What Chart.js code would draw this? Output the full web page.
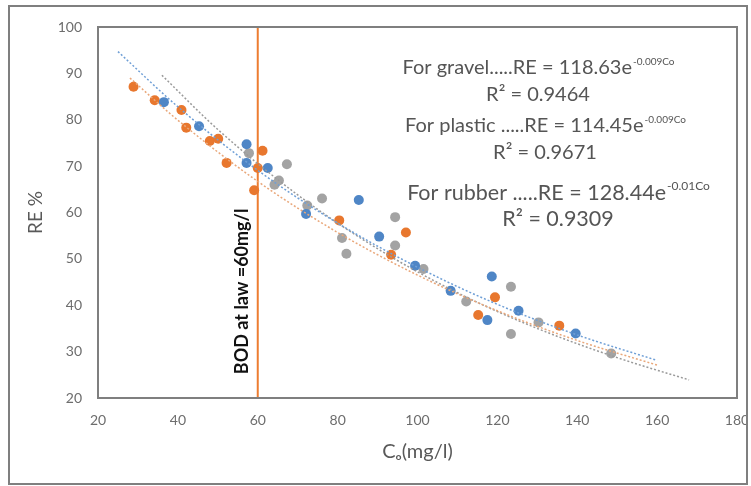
<!DOCTYPE html>
<html>
<head>
<meta charset="utf-8">
<script src="https://cdn.jsdelivr.net/npm/chart.js@4.4.1/dist/chart.umd.min.js"></script>
<style>
  body { margin: 0; background: #fff; }
  #box { position: absolute; left: 8px; top: 5px; width: 736px; height: 476px; border: 2px solid #7f7f7f; background: #fff; }
  #plotFrame { position: absolute; border: 2px solid #7f7f7f; box-sizing: border-box; pointer-events: none; }
  canvas { display: block; }
</style>
</head>
<body>
<div id="box"><canvas id="chart" width="736" height="476"></canvas><div id="plotFrame"></div></div>
<script>
// -----------------------------
// Data
// -----------------------------
const gravelX = [36.5, 45.3, 57.2, 57.2, 62.5, 72.1, 85.3, 90.4, 99.4, 108.3, 117.5, 118.6, 125.3, 139.6];
const gravelY = [83.8, 78.6, 74.7, 70.7, 69.6, 59.7, 62.7, 54.8, 48.5, 43.1, 36.8, 46.2, 38.8, 33.9];

const plasticX = [28.9, 34.2, 40.9, 42.1, 48.0, 50.1, 52.2, 59.1, 60.0, 61.2, 80.4, 93.4, 97.1, 115.2, 119.4, 135.5];
const plasticY = [87.1, 84.2, 82.1, 78.3, 75.4, 75.9, 70.7, 64.8, 69.6, 73.3, 58.3, 50.9, 55.7, 37.9, 41.7, 35.6];

const rubberX = [57.8, 64.2, 65.3, 67.3, 72.4, 76.1, 81.1, 82.2, 94.4, 94.4, 101.5, 112.2, 123.4, 123.4, 130.3, 148.5];
const rubberY = [72.8, 66.0, 66.9, 70.4, 61.5, 63.0, 54.5, 51.1, 59.0, 52.9, 47.8, 40.8, 44.0, 33.8, 36.3, 29.6];

// dotted trend lines
const gravelTrendX = [25, 40, 60, 80, 100, 120, 140, 160];
const gravelTrendY = [94.7, 82.8, 69.1, 57.7, 48.2, 40.2, 33.6, 28.1];
const plasticTrendX = [28, 40, 60, 80, 100, 120, 140, 160];
const plasticTrendY = [89.0, 79.9, 66.7, 55.7, 46.5, 38.8, 32.4, 27.1];
const rubberTrendX = [36, 50, 70, 90, 110, 130, 150, 168];
const rubberTrendY = [89.6, 77.9, 63.8, 52.2, 42.7, 35.0, 28.7, 23.9];

// BOD limit line
const lawLimit = 60;
const lawLineY = [20, 100];
const lawLabel = "BOD at law =60mg/l";

// equation labels
const eqMain = ["For gravel.....RE = 118.63e", "For plastic .....RE = 114.45e", "For rubber .....RE = 128.44e"];
const eqSup = ["-0.009Co", "-0.009Co", "-0.01Co"];
const eqR2 = ["R² = 0.9464", "R² = 0.9671", "R² = 0.9309"];

const xMin = 20, xMax = 180, xStep = 20;
const yMin = 20, yMax = 100, yStep = 10;

function pts(xs, ys) {
  return xs.map((x, i) => ({x: x, y: ys[i]}));
}

const BLUE = '#4f86c6', ORANGE = '#e8772e', GRAY = '#a3a3a3';
const FONT = "Lato, 'Open Sans', sans-serif";

// -----------------------------
// Plot frame + texts
// -----------------------------
const extras = {
  id: 'extras',
  afterDraw(chart) {
    const ctx = chart.ctx;
    const xs = chart.scales.x, ys = chart.scales.y;

    // plot area frame, from the axis ends
    const L = xs.getPixelForValue(xMin), R = xs.getPixelForValue(xMax);
    const T = ys.getPixelForValue(yMax), B = ys.getPixelForValue(yMin);
    ctx.save();
    ctx.setLineDash([]);
    ctx.strokeStyle = '#7f7f7f';
    ctx.lineWidth = 2;
    ctx.strokeRect(L, T, R - L, B - T);
    ctx.restore();

    // vertical label next to the limit line
    ctx.save();
    ctx.translate(xs.getPixelForValue(lawLimit) - 16, ys.getPixelForValue(43));
    ctx.rotate(-Math.PI / 2);
    ctx.font = "bold 18px " + FONT;
    ctx.fillStyle = '#111';
    ctx.textAlign = 'center';
    ctx.textBaseline = 'middle';
    ctx.fillText(lawLabel, 0, 0);
    ctx.restore();

    // equations
    const cx = [528, 535, 548];
    const cy = [61, 119, 186];
    const ry = [88, 146, 212];
    const size = [20, 20, 21.5];
    const supSize = [10, 10, 12];
    ctx.save();
    ctx.fillStyle = '#555';
    ctx.textBaseline = 'middle';
    ctx.textAlign = 'left';
    for (let i = 0; i < eqMain.length; i++) {
      ctx.font = size[i] + "px " + FONT;
      const w1 = ctx.measureText(eqMain[i]).width;
      ctx.font = supSize[i] + "px " + FONT;
      const w2 = ctx.measureText(eqSup[i]).width;
      const x0 = cx[i] - (w1 + w2) / 2;
      ctx.font = size[i] + "px " + FONT;
      ctx.fillText(eqMain[i], x0, cy[i]);
      ctx.font = supSize[i] + "px " + FONT;
      ctx.fillText(eqSup[i], x0 + w1 + 1, cy[i] - size[i] * 0.32);

      ctx.font = size[i] + "px " + FONT;
      ctx.textAlign = 'center';
      ctx.fillText(eqR2[i], cx[i], ry[i]);
      ctx.textAlign = 'left';
    }
    ctx.restore();
  }
};

const trendStyle = {
  type: 'line', showLine: true, pointRadius: 0, borderWidth: 1.5,
  borderDash: [2, 2], tension: 0.3, cubicInterpolationMode: 'monotone', fill: false
};

const chart = new Chart(document.getElementById('chart'), {
  type: 'scatter',
  data: {
    datasets: [
      Object.assign({label: 'gravel trend', data: pts(gravelTrendX, gravelTrendY), borderColor: '#6f9fd6'}, trendStyle),
      Object.assign({label: 'plastic trend', data: pts(plasticTrendX, plasticTrendY), borderColor: '#e9a77a'}, trendStyle),
      Object.assign({label: 'rubber trend', data: pts(rubberTrendX, rubberTrendY), borderColor: '#9a9a9a'}, trendStyle),
      { label: 'gravel', data: pts(gravelX, gravelY), backgroundColor: BLUE, borderColor: BLUE, pointRadius: 5, borderWidth: 0 },
      { label: 'plastic', data: pts(plasticX, plasticY), backgroundColor: ORANGE, borderColor: ORANGE, pointRadius: 5, borderWidth: 0 },
      { label: 'rubber', data: pts(rubberX, rubberY), backgroundColor: GRAY, borderColor: GRAY, pointRadius: 5, borderWidth: 0 },
      { type: 'line', label: 'BOD limit', data: lawLineY.map(y => ({x: lawLimit, y: y})),
        borderColor: '#ed7d31', borderWidth: 2, pointRadius: 0, fill: false }
    ]
  },
  options: {
    responsive: false,
    animation: false,
    layout: { padding: { left: 0, right: 9, top: 20, bottom: 0 } },
    plugins: { legend: { display: false }, tooltip: { enabled: false } },
    scales: {
      x: {
        type: 'linear', min: xMin, max: xMax,
        grid: { display: false, drawTicks: false },
        border: { display: false },
        ticks: { stepSize: xStep, padding: 14, color: '#6d6d6d', font: { family: FONT, size: 14 } },
        title: { display: true, text: 'Cₒ(mg/l)', color: '#595959', font: { family: FONT, size: 20 }, padding: { top: 0, bottom: 19 } },
        afterFit(s) { s.height = 85; s.paddingLeft = 0; s.paddingRight = 0; }
      },
      y: {
        type: 'linear', min: yMin, max: yMax,
        grid: { display: false, drawTicks: false },
        border: { display: false },
        ticks: { stepSize: yStep, padding: 16, color: '#6d6d6d', font: { family: FONT, size: 14 } },
        title: { display: true, text: 'RE %', color: '#595959', font: { family: FONT, size: 19 }, padding: { top: 14, bottom: 0 } },
        afterFit(s) { s.width = 88; s.paddingTop = 0; s.paddingBottom = 0; }
      }
    }
  },
  plugins: [extras]
});

// frame overlay placed on the chart area
const ca = chart.chartArea;
const frame = document.getElementById('plotFrame');
frame.style.left = (ca.left - 1) + 'px';
frame.style.top = (ca.top - 1) + 'px';
frame.style.width = (ca.right - ca.left + 2) + 'px';
frame.style.height = (ca.bottom - ca.top + 2) + 'px';
</script>
</body>
</html>
